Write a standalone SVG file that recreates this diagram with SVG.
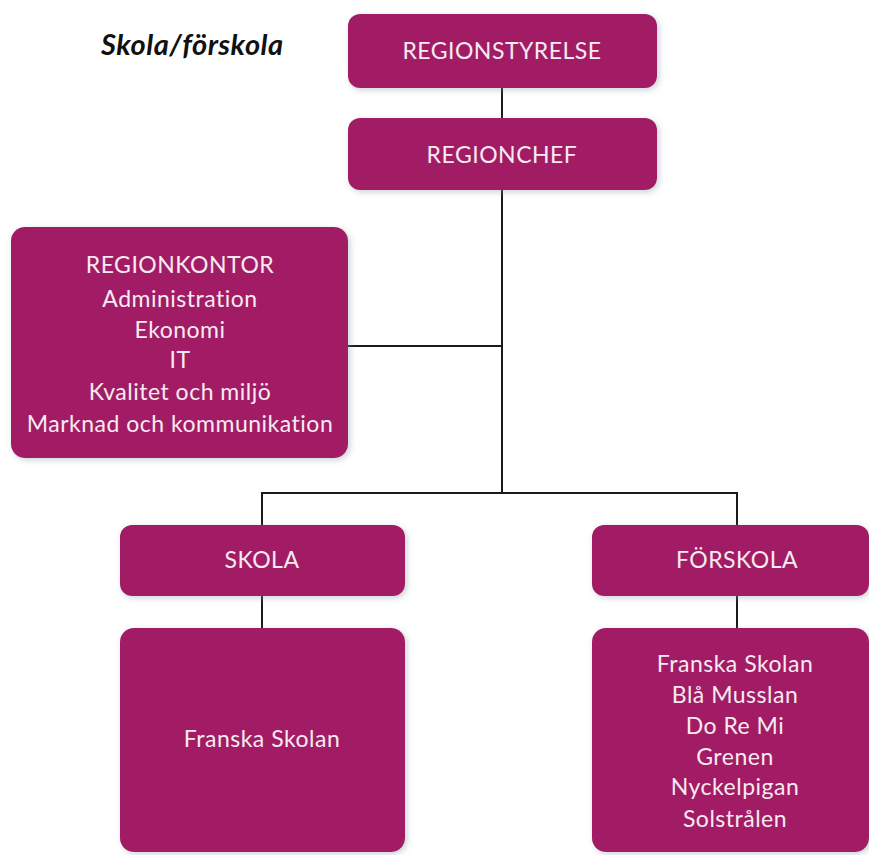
<svg xmlns="http://www.w3.org/2000/svg" width="869" height="855" viewBox="0 0 869 855">
<defs>
<filter id="sh" x="-10%" y="-10%" width="120%" height="120%">
<feGaussianBlur in="SourceAlpha" stdDeviation="3"/>
<feOffset dx="2" dy="2" result="b"/>
<feFlood flood-color="#8a9aa8" flood-opacity="0.45"/>
<feComposite in2="b" operator="in" result="s"/>
<feMerge><feMergeNode in="s"/><feMergeNode in="SourceGraphic"/></feMerge>
</filter>
</defs>
<style>
.box{fill:#a21f65;filter:url(#sh);}
.t{font-family:Lato,"Liberation Sans",sans-serif;font-size:23px;letter-spacing:0.5px;fill:#f7eaf1;text-anchor:middle;}
.c{stroke:#1a1a1a;stroke-width:2;fill:none;}
.title{font-family:Lato,"Liberation Sans",sans-serif;font-size:29px;letter-spacing:0.5px;font-weight:bold;font-style:italic;fill:#111;}
</style>
<rect width="869" height="855" fill="#ffffff"/>
<text class="title" x="101" y="55">Skola/förskola</text>
<g id="connectors">
<line class="c" x1="502" y1="88" x2="502" y2="118"/>
<line class="c" x1="502" y1="190" x2="502" y2="493"/>
<line class="c" x1="348" y1="346" x2="502" y2="346"/>
<polyline class="c" points="262,526 262,493 737,493 737,526"/>
<line class="c" x1="262" y1="596" x2="262" y2="628"/>
<line class="c" x1="737" y1="596" x2="737" y2="628"/>
</g>
<g id="regionstyrelse">
<rect class="box" x="348" y="14" width="309" height="74" rx="12"/>
<text class="t" x="502" y="59">REGIONSTYRELSE</text>
</g>
<g id="regionchef">
<rect class="box" x="348" y="118" width="309" height="72" rx="12"/>
<text class="t" x="502" y="163">REGIONCHEF</text>
</g>
<g id="regionkontor">
<rect class="box" x="11" y="227" width="337" height="231" rx="14"/>
<text class="t" x="180" y="273">REGIONKONTOR</text>
<text class="t" x="180" y="307">Administration</text>
<text class="t" x="180" y="338">Ekonomi</text>
<text class="t" x="180" y="368">IT</text>
<text class="t" x="180" y="400">Kvalitet och miljö</text>
<text class="t" x="180" y="432">Marknad och kommunikation</text>
</g>
<g id="skola">
<rect class="box" x="120" y="525" width="285" height="71" rx="12"/>
<text class="t" x="262" y="568">SKOLA</text>
</g>
<g id="forskola">
<rect class="box" x="592" y="525" width="277" height="71" rx="12"/>
<text class="t" x="737" y="568">FÖRSKOLA</text>
</g>
<g id="skola-list">
<rect class="box" x="120" y="628" width="285" height="224" rx="14"/>
<text class="t" x="262" y="747">Franska Skolan</text>
</g>
<g id="forskola-list">
<rect class="box" x="592" y="628" width="277" height="224" rx="14"/>
<text class="t" x="735" y="672">Franska Skolan</text>
<text class="t" x="735" y="703">Blå Musslan</text>
<text class="t" x="735" y="734">Do Re Mi</text>
<text class="t" x="735" y="765">Grenen</text>
<text class="t" x="735" y="795">Nyckelpigan</text>
<text class="t" x="735" y="827">Solstrålen</text>
</g>
</svg>
